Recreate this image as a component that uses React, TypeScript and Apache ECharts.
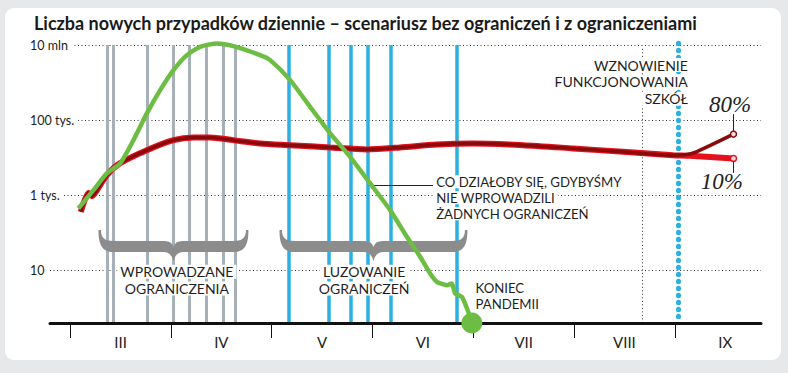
import React, { useEffect, useRef } from 'react';
import * as echarts from 'echarts';

// x: months since 1 March 2020 (0 = 1 III, 1 = 1 IV, ...); y: log10 of daily new cases
const monthLabels = ['III', 'IV', 'V', 'VI', 'VII', 'VIII', 'IX'];
const monthStarts = [0, 1, 2, 3, 4, 5, 6];
const monthMids = [0.5, 1.5, 2.5, 3.5, 4.5, 5.5, 6.5];
const yTickExps = [1, 3, 5, 7];
const yTickLabels = ['10', '1 tys.', '100 tys.', '10 mln'];

const X_MIN = -0.2;
const X_MAX = 6.855;
const Y_MIN = -0.39;
const Y_MAX = 7.2;

// scenario without restrictions (green)
const greenX = [0.082, 0.231, 0.364, 0.496, 0.628, 0.761, 0.893, 1.025, 1.158, 1.29, 1.456, 1.62, 1.885, 1.985, 2.183, 2.381, 2.58, 2.778, 2.977, 3.175, 3.341, 3.473, 3.572, 3.639, 3.738, 3.788, 3.82, 3.887, 3.969, 3.986];
const greenY = [2.657, 3.144, 3.588, 3.854, 4.473, 5.184, 5.803, 6.335, 6.734, 6.955, 7.045, 6.973, 6.734, 6.601, 6.069, 5.359, 4.652, 4.029, 3.322, 2.612, 1.902, 1.37, 0.928, 0.705, 0.617, 0.662, 0.396, 0.306, -0.226, -0.39];

// scenario with restrictions (red), common part
const redX = [0.106, 0.182, 0.215, 0.248, 0.364, 0.496, 0.761, 1.025, 1.223, 1.389, 1.617, 1.885, 2.183, 2.58, 2.944, 3.274, 3.639, 4.002, 4.495, 4.991, 5.487, 5.983];
const redY = [2.566, 3.064, 2.984, 3.072, 3.543, 3.862, 4.207, 4.473, 4.545, 4.545, 4.473, 4.386, 4.34, 4.279, 4.226, 4.279, 4.359, 4.386, 4.34, 4.253, 4.162, 4.074];
// after schools reopen
const tail80X = [6.12, 6.22, 6.582];
const tail80Y = [4.09, 4.17, 4.633];
const tail10X = [6.15, 6.582];
const tail10Y = [4.06, 3.987];

// restriction dates (gray) and easing dates (blue)
const restrictionX = [0.364, 0.424, 0.761, 1.025, 1.181, 1.349, 1.521, 1.637];
const easingX = [2.173, 2.563, 2.788, 2.954, 3.185, 3.837];
const schoolX = 6.03;
const markerX = 5.679;

const FONT = 'Lato';
const GREEN = '#6dbd45';
const RED = '#e3101d';
const DARK = '#8a0a0c';
const GRAY_LINE = '#a5b0b9';
const BLUE = '#2bb0e1';
const BRACE = '#8c8c8c';

function braceD(w: number) {
  const h = w / 2;
  return `M0 0 C0 14 3 22 15 22 L${h - 10} 22 Q${h - 2} 22 ${h} 31 Q${h + 2} 22 ${h + 10} 22 L${w - 15} 22 C${w - 3} 22 ${w} 14 ${w} 0 L${w - 2.5} 0 C${w - 2.5} 8 ${w - 6} 11 ${w - 16} 11 L${h + 9} 11 Q${h + 1.5} 11 ${h} 17 Q${h - 1.5} 11 ${h - 9} 11 L16 11 C6 11 2.5 8 2.5 0 Z`;
}

const zip = (xs: number[], ys: number[]) => xs.map((x, i) => [x, ys[i]]);

export default function App() {
  const ref = useRef<HTMLDivElement>(null);
  useEffect(() => {
    const chart = echarts.init(ref.current!, undefined, { renderer: 'svg' });

    const vPair = (x: number, top: number, style: any) => [
      { coord: [x, top], lineStyle: style },
      { coord: [x, Y_MIN] },
    ];

    const endSym = (pt: number[], color: string) => ({
      value: pt,
      symbol: 'circle',
      symbolSize: 6,
      itemStyle: { color: '#f8dcd8', borderColor: color, borderWidth: 1.5 },
    });

    const green = zip(greenX, greenY) as any[];
    green[green.length - 1] = {
      value: green[green.length - 1],
      symbol: 'circle',
      symbolSize: 21,
      itemStyle: { color: GREEN },
    };

    const common = zip(redX, redY);
    const s80: any[] = [...common, ...zip(tail80X, tail80Y)];
    s80[s80.length - 1] = endSym(s80[s80.length - 1], DARK);
    const s10: any[] = [...common, ...zip(tail10X, tail10Y)];
    s10[s10.length - 1] = endSym(s10[s10.length - 1], RED);

    const leader = { color: '#222', width: 1, type: 'solid' };

    chart.setOption({
      animation: false,
      title: {
        text: 'Liczba nowych przypadków dziennie – scenariusz bez ograniczeń i z ograniczeniami',
        left: 29,
        top: 9,
        textStyle: { fontFamily: FONT, fontWeight: 'bold', fontSize: 18, color: '#1a1a1a' },
      },
      grid: { left: 50, right: 27, top: 37.6, bottom: 50 },
      xAxis: {
        type: 'value',
        min: X_MIN,
        max: X_MAX,
        z: 2,
        axisLine: { show: true, onZero: false, lineStyle: { color: '#111', width: 3 } },
        axisTick: { show: true, customValues: monthStarts, length: 15, lineStyle: { color: '#111', width: 1 } },
        axisLabel: {
          customValues: monthMids,
          formatter: (v: number) => monthLabels[Math.floor(v)],
          fontFamily: FONT,
          fontSize: 15,
          color: '#222',
          margin: 11,
        },
        splitLine: { show: false },
      },
      yAxis: {
        type: 'value',
        min: Y_MIN,
        max: Y_MAX,
        z: 6,
        axisLine: { show: false },
        axisTick: { show: false, customValues: yTickExps },
        axisLabel: {
          customValues: yTickExps,
          formatter: (v: number) => yTickLabels[yTickExps.indexOf(Math.round(v))],
          align: 'left',
          margin: 20,
          fontFamily: FONT,
          fontSize: 12.5,
          color: '#222',
          backgroundColor: '#fff',
          padding: [0, 4, 0, 0],
        },
        splitLine: { show: false },
      },
      series: [
        {
          type: 'line',
          name: 'grid',
          data: [],
          z: 1,
          silent: true,
          markLine: {
            z: 1,
            silent: true,
            symbol: 'none',
            label: { show: false },
            lineStyle: { color: '#333', width: 1, type: [1, 2.5] },
            data: yTickExps.map((v) => ({ yAxis: v })),
          },
        },
        {
          type: 'line',
          name: 'events',
          data: [],
          z: 1,
          silent: true,
          markLine: {
            z: 1,
            silent: true,
            symbol: 'none',
            label: { show: false },
            data: [
              ...restrictionX.map((x) => vPair(x, 7, { color: GRAY_LINE, width: 3, type: 'solid' })),
              ...easingX.map((x) => vPair(x, 7, { color: BLUE, width: 3.5, type: 'solid' })),
              vPair(markerX, 6.9, { color: '#333', width: 1, type: [1, 2.5] }),
              vPair(schoolX, 7.05, { color: BLUE, width: 5, type: [0.5, 6.5], cap: 'round' }),
            ],
          },
        },
        {
          type: 'line',
          name: '10%',
          data: s10,
          z: 3,
          smooth: 0.25,
          symbol: 'none',
          showSymbol: true,
          lineStyle: { color: RED, width: 6 },
          markLine: {
            z: 3,
            silent: true,
            symbol: 'none',
            label: { show: false },
            data: [[{ coord: [6.582, 3.95], lineStyle: leader }, { coord: [6.582, 3.604] }]],
          },
        },
        {
          type: 'line',
          name: '80%',
          data: s80,
          z: 4,
          smooth: 0.25,
          symbol: 'none',
          showSymbol: true,
          lineStyle: { color: DARK, width: 3.5 },
          markLine: {
            z: 3,
            silent: true,
            symbol: 'none',
            label: { show: false },
            data: [[{ coord: [6.582, 4.68], lineStyle: leader }, { coord: [6.582, 5.165] }]],
          },
        },
        {
          type: 'line',
          name: 'bez ograniczeń',
          data: green,
          z: 5,
          smooth: 0.2,
          symbol: 'none',
          showSymbol: true,
          lineStyle: { color: GREEN, width: 4.5 },
          markLine: {
            z: 3,
            silent: true,
            symbol: 'none',
            label: { show: false },
            data: [[{ coord: [2.975, 3.277], lineStyle: leader }, { coord: [3.6, 3.277] }]],
          },
        },
      ],
    });

    const P = (x: number, y: number) => chart.convertToPixel({ gridIndex: 0 }, [x, y]) as number[];

    const b1a = P(0.281, 2.08);
    const b1b = P(1.769, 2.08);
    const b2a = P(2.077, 2.08);
    const b2b = P(3.942, 2.08);
    echarts.graphic.registerShape('brace1', echarts.graphic.extendPath(braceD(b1b[0] - b1a[0]), {}));
    echarts.graphic.registerShape('brace2', echarts.graphic.extendPath(braceD(b2b[0] - b2a[0]), {}));

    // multi-line annotation: one text element, each line with its own white background
    const block = (p: number[], lines: string[], lh: number, align: string, fontSize = 14) => ({
      type: 'text',
      x: p[0],
      y: p[1] - lh / 2,
      z: 2,
      style: {
        text: lines.map((l) => `{a|${l}}`).join('\n'),
        align,
        verticalAlign: 'top',
        rich: {
          a: {
            fontFamily: FONT,
            fontSize,
            fill: '#1f1f1f',
            lineHeight: lh,
            backgroundColor: '#fff',
            padding: [0, 3],
          },
        },
      },
    });

    const pctText = (p: number[], text: string) => ({
      type: 'text',
      x: p[0],
      y: p[1],
      z: 2,
      style: {
        text,
        fontFamily: 'Liberation Serif',
        fontStyle: 'italic',
        fontSize: 23,
        fill: '#222',
        align: 'center',
        verticalAlign: 'middle',
      },
    });

    const wpro = P(1.059, 0.971);
    const luz = P(2.917, 0.971);
    const co = P(3.602, 3.364);
    const kon = P(3.992, 0.537);
    const szk = P(6.159, 6.468);
    const p80 = P(6.549, 5.412);
    const p10 = P(6.467, 3.364);

    chart.setOption({
      graphic: [
        { type: 'brace1', x: b1a[0], y: b1a[1], z: 2, style: { fill: BRACE } },
        { type: 'brace2', x: b2a[0], y: b2a[1], z: 2, style: { fill: BRACE } },
        block(wpro, ['WPROWADZANE', 'OGRANICZENIA'], 16.8, 'center'),
        block(luz, ['LUZOWANIE', 'OGRANICZEŃ'], 16.8, 'center'),
        block(co, ['CO DZIAŁOBY SIĘ, GDYBYŚMY', 'NIE WPROWADZILI', 'ŻADNYCH OGRANICZEŃ'], 16, 'left', 13.2),
        block(kon, ['KONIEC', 'PANDEMII'], 16, 'left', 13.2),
        block(szk, ['WZNOWIENIE', 'FUNKCJONOWANIA', 'SZKÓŁ'], 16.8, 'right'),
        pctText(p80, '80%'),
        pctText(p10, '10%'),
      ],
    });

    return () => chart.dispose();
  }, []);

  return (
    <div style={{ position: 'fixed', left: 0, top: 0, width: 788, height: 373, background: '#e7e8ea' }}>
      <div style={{ position: 'absolute', left: 5, top: 8, width: 776, height: 352, background: '#fff', borderRadius: 9 }} />
      <div ref={ref} style={{ position: 'absolute', left: 0, top: 0, width: 788, height: 373 }} />
    </div>
  );
}
